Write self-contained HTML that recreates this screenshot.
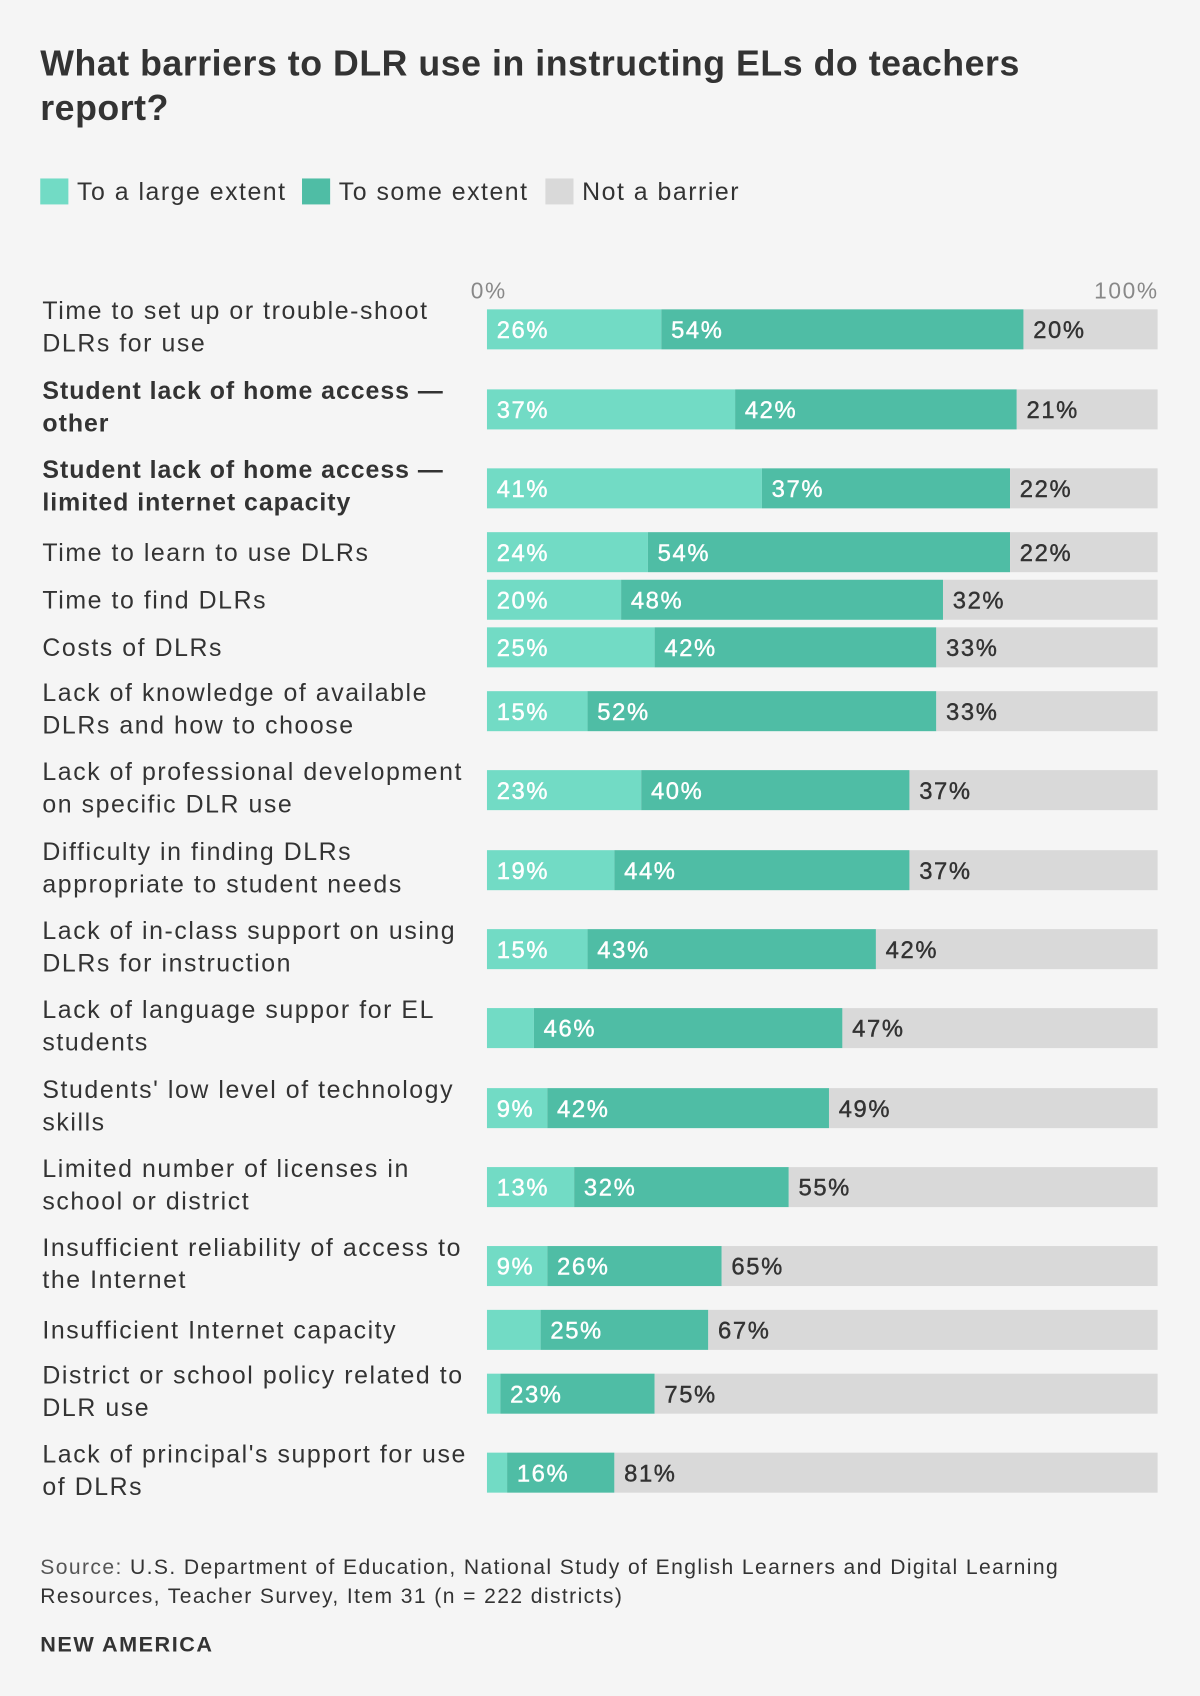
<!DOCTYPE html>
<html><head><meta charset="utf-8">
<style>
html,body{margin:0;padding:0;background:#f5f5f5;}
svg{display:block;font-family:"Liberation Sans",sans-serif;}
</style></head>
<body>
<svg id="chart" width="1200" height="1696" viewBox="0 0 1109 1568" xmlns="http://www.w3.org/2000/svg">
<rect width="1109" height="1568" fill="#f5f5f5"/>
<text x="37" y="70" font-size="33" font-weight="bold" fill="#333" letter-spacing="0.5">What barriers to DLR use in instructing ELs do teachers</text>
<text x="37" y="111" font-size="33" font-weight="bold" fill="#333" letter-spacing="0.5">report?</text>
<g letter-spacing="1.4">
<rect x="37" y="165" width="26" height="24" fill="#72dbc5"/>
<text x="71" y="185" font-size="23" fill="#333">To a large extent</text>
<rect x="279" y="165" width="26" height="24" fill="#4fbda5"/>
<text x="313" y="185" font-size="23" fill="#333">To some extent</text>
<rect x="504" y="165" width="26" height="24" fill="#d9d9d9"/>
<text x="538" y="185" font-size="23" fill="#333">Not a barrier</text>
</g>
<text x="435" y="276" font-size="21" fill="#888" letter-spacing="1.5">0%</text>
<text x="1071" y="276" font-size="21" fill="#888" text-anchor="end" letter-spacing="1.5">100%</text>
<g id="bars"></g>
<text x="37" y="1455" font-size="19.5" fill="#333" letter-spacing="1.3"><tspan fill="#555">Source:</tspan> U.S. Department of Education, National Study of English Learners and Digital Learning</text>
<text x="37" y="1482" font-size="19.5" fill="#333" letter-spacing="1.3">Resources, Teacher Survey, Item 31 (n = 222 districts)</text>
<text x="37" y="1527" font-size="20" font-weight="bold" fill="#333" letter-spacing="1.4">NEW AMERICA</text>
</svg>
<script>
const categories = [
 ["Time to set up or trouble-shoot","DLRs for use"],
 ["Student lack of home access —","other"],
 ["Student lack of home access —","limited internet capacity"],
 ["Time to learn to use DLRs"],
 ["Time to find DLRs"],
 ["Costs of DLRs"],
 ["Lack of knowledge of available","DLRs and how to choose"],
 ["Lack of professional development","on specific DLR use"],
 ["Difficulty in finding DLRs","appropriate to student needs"],
 ["Lack of in-class support on using","DLRs for instruction"],
 ["Lack of language suppor for EL","students"],
 ["Students' low level of technology","skills"],
 ["Limited number of licenses in","school or district"],
 ["Insufficient reliability of access to","the Internet"],
 ["Insufficient Internet capacity"],
 ["District or school policy related to","DLR use"],
 ["Lack of principal's support for use","of DLRs"]
];
const boldRows = [1,2];
const largeExtent = [26,37,41,24,20,25,15,23,19,15,7,9,13,9,8,2,3];
const someExtent  = [54,42,37,54,48,42,52,40,44,43,46,42,32,26,25,23,16];
const notBarrier  = [20,21,22,22,32,33,33,37,37,42,47,49,55,65,67,75,81];
const barTops = [286,360,433,492,536,580,639,712,786,859,932,1006,1079,1152,1211,1270,1343];

const NS="http://www.w3.org/2000/svg";
const g=document.getElementById('bars');
const X0=450, W=620, BH=37;
const x = v => X0 + v/100*W;
const colors=["#72dbc5","#4fbda5","#d9d9d9"];
const names=["large","some","not"];
categories.forEach((lines,i)=>{
  const top=barTops[i];
  const lab=document.createElementNS(NS,'text');
  
  
  lab.setAttribute('font-size','23');
  lab.setAttribute('fill','#333');
  const bold = boldRows.includes(i);
  if(bold) lab.setAttribute('font-weight','bold');
  lab.setAttribute('letter-spacing', bold ? '0.9' : '1.45');
  const y0 = lines.length===2 ? top+9 : top+BH/2+8;
  lines.forEach((l,k)=>{
    const t=document.createElementNS(NS,'tspan');
    t.setAttribute('x',39);
    t.setAttribute('y',y0+k*30);
    t.textContent=l;
    lab.appendChild(t);
  });
  g.appendChild(lab);
  const vals=[largeExtent[i],someExtent[i],notBarrier[i]];
  let cum=0;
  vals.forEach((v,s)=>{
    const r=document.createElementNS(NS,'rect');
    
    
    const xa=x(cum), xb= s===2 ? X0+W : x(cum+v);
    r.setAttribute('x',xa); r.setAttribute('y',top);
    r.setAttribute('width',Math.max(0,xb-xa)); r.setAttribute('height',BH);
    r.setAttribute('fill',colors[s]);
    g.appendChild(r);
    if(v>=9){
      const t=document.createElementNS(NS,'text');
      
      
      t.setAttribute('x',xa+9); t.setAttribute('y',top+BH/2+8);
      t.setAttribute('font-size','22');
      t.setAttribute('letter-spacing','1.5');
      t.setAttribute('stroke', s===2 ? '#333' : '#fff');
      t.setAttribute('stroke-width','0.4');
      t.setAttribute('fill', s===2 ? '#333' : '#fff');
      t.textContent=v+'%';
      g.appendChild(t);
    }
    cum+=v;
  });
});
</script>
</body></html>
